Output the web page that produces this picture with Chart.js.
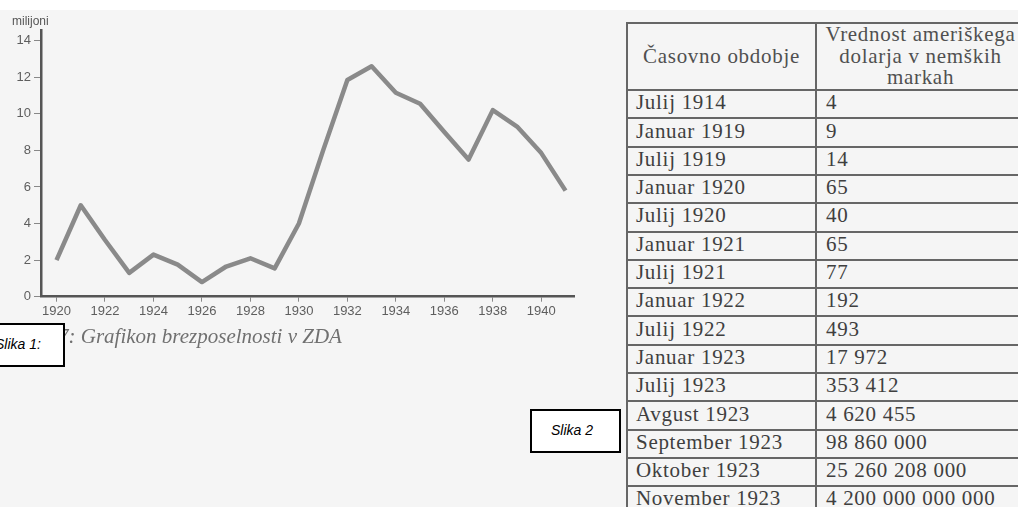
<!DOCTYPE html>
<html>
<head>
<meta charset="utf-8">
<script src="https://cdn.jsdelivr.net/npm/chart.js@4/dist/chart.umd.min.js"></script>
<style>
  html, body { margin: 0; padding: 0; }
  body { width: 1018px; height: 507px; overflow: hidden; position: relative; background: #fff; font-family: "Liberation Sans", Arial, sans-serif; }
  #paper { position: absolute; left: 0; top: 10px; width: 1018px; height: 497px; background: #f5f5f5; }
  #chartBox { position: absolute; left: 0; top: 0; width: 600px; height: 330px; }
  #unit { position: absolute; left: 12px; top: 14px; font-size: 12px; color: #555; }
  #caption { position: absolute; left: 58px; top: 324px; font: italic 21px "Liberation Serif", serif; color: #707070; white-space: nowrap; }
  .slika { position: absolute; background: #fff; border: 2px solid #000; box-sizing: border-box; font: italic 14px "Liberation Sans", sans-serif; color: #000; white-space: nowrap; }
  #slika1 { left: -40px; top: 323px; width: 105px; height: 44px; padding: 11px 0 0 33px; }
  #slika2 { left: 530px; top: 409px; width: 91px; height: 44px; padding: 11px 0 0 19px; }
  #tbl { position: absolute; left: 626px; top: 22px; width: 398px; table-layout: fixed; border-collapse: collapse; font: 21px "Liberation Serif", serif; letter-spacing: 0.7px; color: #3f3f3f; background: #f5f5f5; }
  #tbl td, #tbl th { border: 2px solid #666; padding: 0 0 3px 8px; height: 23.3px; line-height: 23px; white-space: nowrap; overflow: hidden; font-weight: normal; text-align: left; vertical-align: middle; }
  #tbl th { height: 65px; line-height: 21.7px; text-align: center; padding: 0; color: #505050; }
  #tbl td.v { padding-left: 9px; }
</style>
</head>
<body>
<div id="paper"></div>
<div id="chartBox"><canvas id="chartBrezposelnost" width="600" height="330"></canvas></div>
<div id="unit">milijoni</div>
<div id="caption">7: Grafikon brezposelnosti v ZDA</div>
<div class="slika" id="slika1">Slika 1:</div>
<table id="tbl"><colgroup><col style="width:189px"><col style="width:209px"></colgroup><tbody id="tbody"></tbody></table>
<div class="slika" id="slika2">Slika 2</div>
<script>
// podatki - brezposelnost v ZDA (milijoni)
const leta = [1920, 1921, 1922, 1923, 1924, 1925, 1926, 1927, 1928, 1929, 1930,
              1931, 1932, 1933, 1934, 1935, 1936, 1937, 1938, 1939, 1940, 1941];
const brezposelni = [2.0, 5.0, 3.1, 1.3, 2.3, 1.75, 0.8, 1.65, 2.1, 1.55, 4.0,
                     8.0, 11.85, 12.6, 11.15, 10.55, 9.0, 7.5, 10.2, 9.3, 7.85, 5.8];
const xTicks = [1920, 1922, 1924, 1926, 1928, 1930, 1932, 1934, 1936, 1938, 1940];
const yTicks = [0, 2, 4, 6, 8, 10, 12, 14];

// tabela - vrednost dolarja v markah
const obdobja = ['Julij 1914', 'Januar 1919', 'Julij 1919', 'Januar 1920', 'Julij 1920',
                 'Januar 1921', 'Julij 1921', 'Januar 1922', 'Julij 1922', 'Januar 1923',
                 'Julij 1923', 'Avgust 1923', 'September 1923', 'Oktober 1923', 'November 1923'];
const vrednosti = ['4', '9', '14', '65', '40', '65', '77', '192', '493', '17 972',
                   '353 412', '4 620 455', '98 860 000', '25 260 208 000', '4 200 000 000 000'];

function drawTable() {
  let html = '<tr><th>Časovno obdobje</th>' +
             '<th>Vrednost ameriškega<br>dolarja v nemških<br>markah</th></tr>';
  obdobja.forEach((o, i) => {
    html += `<tr><td>${o}</td><td class="v">${vrednosti[i]}</td></tr>`;
  });
  document.getElementById('tbody').innerHTML = html;
}
drawTable();

const axisFont = {family: '"Liberation Sans", Arial, sans-serif', size: 13};

new Chart(document.getElementById('chartBrezposelnost').getContext('2d'), {
  type: 'line',
  data: {
    datasets: [{
      data: leta.map((l, i) => ({x: l, y: brezposelni[i]})),
      borderColor: '#8a8a8a',
      borderWidth: 4.5,
      borderJoinStyle: 'round',
      pointRadius: 0,
      tension: 0,
      fill: false,
      clip: false
    }]
  },
  options: {
    responsive: false,
    animation: false,
    layout: {padding: {left: 0, top: 30, right: 26, bottom: 0}},
    plugins: {legend: {display: false}, tooltip: {enabled: false}},
    scales: {
      x: {
        type: 'linear',
        min: 1919.36,
        max: 1941.35,
        afterBuildTicks: s => { s.ticks = xTicks.map(v => ({value: v})); },
        afterFit: s => { s.height = 33.3; },
        border: {display: true, color: '#555', width: 2.5},
        grid: {display: true, drawOnChartArea: false, drawTicks: true, tickLength: 5, color: '#888', lineWidth: 1},
        ticks: {color: '#5e5e5e', font: axisFont, padding: 2, maxRotation: 0, autoSkip: false, callback: v => String(v)}
      },
      y: {
        min: 0,
        max: 14.58,
        afterBuildTicks: s => { s.ticks = yTicks.map(v => ({value: v})); },
        afterFit: s => { s.width = 41; },
        border: {display: true, color: '#555', width: 2.5},
        grid: {display: true, drawOnChartArea: false, drawTicks: true, tickLength: 7, color: '#888', lineWidth: 1},
        ticks: {color: '#5e5e5e', font: axisFont, padding: 3, callback: v => String(v)}
      }
    }
  }
});
</script>
</body>
</html>
